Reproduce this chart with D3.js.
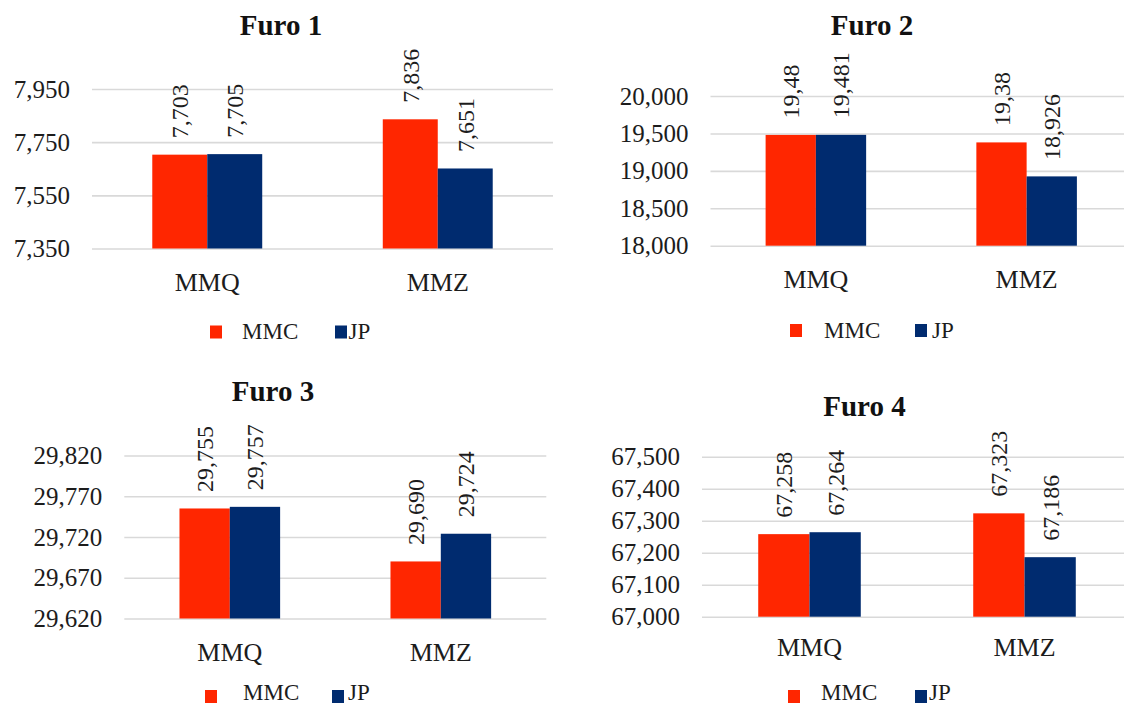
<!DOCTYPE html>
<html>
<head>
<meta charset="utf-8">
<script src="https://cdn.jsdelivr.net/npm/d3@7"></script>
<style>
  html, body { margin: 0; padding: 0; background: #fff; }
  svg { display: block; }
  text { font-family: "Liberation Serif", "Times New Roman", "DejaVu Serif", serif; fill: #1c1c1c; }
</style>
</head>
<body>
<svg id="chart" width="1124" height="704"></svg>
<script>
// Categories and series shared by all four panels
const categories = ["MMQ", "MMZ"];
const seriesNames = ["MMC", "JP"];
const titles = ["Furo 1", "Furo 2", "Furo 3", "Furo 4"];

// Values per hole (Furo), one array per series
const furo1MMC = [7.703, 7.836];
const furo1JP  = [7.705, 7.651];
const furo2MMC = [19.48, 19.38];
const furo2JP  = [19.481, 18.926];
const furo3MMC = [29.755, 29.690];
const furo3JP  = [29.757, 29.724];
const furo4MMC = [67.258, 67.323];
const furo4JP  = [67.264, 67.186];

// Decimals shown in the value labels, per panel: [MMC, JP]
const labelDecimals = [[3, 3], [2, 3], [3, 3], [3, 3]];

// Y axis tick values per panel
const furo1Ticks = [7.35, 7.55, 7.75, 7.95];
const furo2Ticks = [18.0, 18.5, 19.0, 19.5, 20.0];
const furo3Ticks = [29.62, 29.67, 29.72, 29.77, 29.82];
const furo4Ticks = [67.0, 67.1, 67.2, 67.3, 67.4, 67.5];

const colors = { MMC: "#ff2600", JP: "#002b6f" };
const serif = "'Liberation Serif', 'Times New Roman', 'DejaVu Serif', serif";

// Portuguese number style: decimal comma
const ptLocale = d3.formatLocale({ decimal: ",", thousands: ".", grouping: [3], currency: ["R$", ""] });
const tickFmt = ptLocale.format(".3f");

// Panel placement on the page
const panels = [
  { mmc: furo1MMC, jp: furo1JP, ticks: furo1Ticks, left: 92,  right: 553,  top: 89,    bottom: 248.5,
    titleX: 281, titleY: 35, catY: 282, legY: 325.5, legText: 339, leg: [210, 242, 335, 348.5] },
  { mmc: furo2MMC, jp: furo2JP, ticks: furo2Ticks, left: 710.5, right: 1132, top: 96,  bottom: 245.7,
    titleX: 872, titleY: 35, catY: 278.5, legY: 324, legText: 337.5, leg: [790, 824, 915, 932] },
  { mmc: furo3MMC, jp: furo3JP, ticks: furo3Ticks, left: 124.3, right: 546.3, top: 455.5, bottom: 618.5,
    titleX: 273, titleY: 400.5, catY: 651.7, legY: 690, legText: 699.5, leg: [205, 243, 332, 348] },
  { mmc: furo4MMC, jp: furo4JP, ticks: furo4Ticks, left: 702, right: 1132, top: 456.7, bottom: 616.7,
    titleX: 864.5, titleY: 416, catY: 646.7, legY: 690, legText: 699.5, leg: [788, 821, 915, 929] }
];

const svg = d3.select("#chart");

panels.forEach((p, i) => {
  const g = svg.append("g");
  const width = p.right - p.left;

  const y = d3.scaleLinear()
    .domain([p.ticks[0], p.ticks[p.ticks.length - 1]])
    .range([p.bottom, p.top]);

  const x0 = d3.scaleBand().domain(categories).range([p.left, p.right]).padding(0);
  const groupW = x0.bandwidth() * 0.477;
  const x1 = d3.scaleBand().domain(seriesNames).range([0, groupW]).padding(0);

  // Gridlines + value labels on the left
  const yAxis = g.append("g")
    .attr("transform", `translate(${p.left},0)`)
    .call(d3.axisLeft(y).tickValues(p.ticks).tickFormat(tickFmt)
      .tickSizeInner(-width).tickSizeOuter(0).tickPadding(22));
  yAxis.attr("font-family", null).attr("font-size", null);
  yAxis.select(".domain").remove();
  yAxis.selectAll(".tick line").attr("stroke", "#d9d9d9").attr("stroke-width", 1.6);
  yAxis.selectAll(".tick text")
    .style("font-family", serif)
    .style("font-size", "25px")
    .attr("fill", "#1c1c1c");

  // Bars
  const rows = categories.map((c, k) => ({ cat: c, vals: [
    { s: "MMC", v: p.mmc[k], dec: labelDecimals[i][0] },
    { s: "JP",  v: p.jp[k],  dec: labelDecimals[i][1] }
  ]}));

  const grp = g.selectAll(".grp").data(rows).join("g")
    .attr("transform", d => `translate(${x0(d.cat) + (x0.bandwidth() - groupW) / 2},0)`);

  grp.selectAll("rect").data(d => d.vals).join("rect")
    .attr("x", d => x1(d.s))
    .attr("width", x1.bandwidth())
    .attr("y", d => y(d.v))
    .attr("height", d => p.bottom - y(d.v))
    .attr("fill", d => colors[d.s]);

  // Rotated value labels above each bar
  grp.selectAll(".val").data(d => d.vals).join("text")
    .attr("class", "val")
    .attr("transform", d => `translate(${x1(d.s) + x1.bandwidth() / 2},${y(d.v) - 16.5}) rotate(-90)`)
    .attr("dy", "0.35em")
    .attr("text-anchor", "start")
    .style("font-family", serif)
    .style("font-size", "24px")
    .text(d => ptLocale.format(`.${d.dec}f`)(d.v));

  // Category axis
  const xAxis = g.append("g")
    .attr("transform", `translate(0,${p.bottom})`)
    .call(d3.axisBottom(x0).tickSize(0).tickPadding(0));
  xAxis.attr("font-family", null).attr("font-size", null);
  xAxis.select(".domain").remove();
  xAxis.selectAll(".tick text")
    .attr("y", p.catY - p.bottom)
    .attr("dy", "0.35em")
    .style("font-family", serif)
    .style("font-size", "26px")
    .attr("fill", "#1c1c1c");

  // Title
  g.append("text")
    .attr("x", p.titleX)
    .attr("y", p.titleY)
    .attr("text-anchor", "middle")
    .style("font-family", serif)
    .style("font-size", "29px")
    .style("font-weight", "bold")
    .style("fill", "#111")
    .text(titles[i]);

  // Legend
  const leg = g.append("g");
  seriesNames.forEach((s, k) => {
    const sx = p.leg[k * 2], tx = p.leg[k * 2 + 1];
    leg.append("rect")
      .attr("x", sx).attr("y", p.legY)
      .attr("width", 12).attr("height", 13)
      .attr("fill", colors[s]);
    leg.append("text")
      .attr("x", tx).attr("y", p.legText)
      .style("font-family", serif)
      .style("font-size", "23px")
      .text(s);
  });
});
</script>
</body>
</html>
